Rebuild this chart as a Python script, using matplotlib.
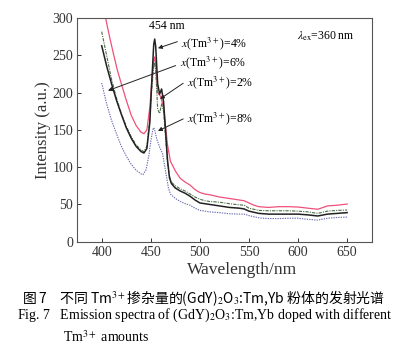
import matplotlib
matplotlib.use("Agg")
import matplotlib.pyplot as plt

# emission spectra (wavelength nm, intensity a.u.)
wl_black = [400, 405, 410, 415, 420, 425, 430, 435, 440, 443, 446, 449, 451, 453, 454, 455, 457, 459, 461,
            463, 465, 467, 469, 471, 475, 480, 485, 490, 495, 500, 505, 510, 520, 530, 540, 545, 550, 560,
            570, 580, 590, 600, 610, 620, 630, 640, 650]
int_black = [263, 236, 212, 190, 171, 153, 139, 128, 121, 119, 125, 160, 215, 265, 272, 262, 212, 198, 205,
             188, 150, 110, 86, 78, 72, 68, 65, 61, 56, 52, 51, 50, 48, 46, 45, 44, 41, 38,
             37, 37, 37, 37, 36, 34.5, 37, 38, 39]

wl_green = [400, 405, 410, 415, 420, 425, 430, 435, 440, 443, 446, 449, 451, 453, 454, 455, 457, 459, 461,
            463, 465, 467, 469, 471, 475, 480, 485, 490, 495, 500, 505, 510, 520, 530, 540, 545, 550, 560,
            570, 580, 590, 600, 610, 620, 630, 640, 650]
int_green = [282, 250, 218, 193, 172, 155, 141, 130, 123, 121, 128, 165, 205, 235, 240, 230, 178, 172, 185,
             175, 140, 105, 88, 80, 75, 71, 68, 64, 60, 57, 55, 54, 53, 51, 49.5, 49, 45, 42,
             41.5, 41.5, 41.5, 41, 40, 38, 41, 42, 42.5]

wl_pink = [400, 404, 408, 412, 416, 420, 425, 430, 435, 440, 443, 446, 449, 451, 453, 454, 455, 457, 460,
           463, 465, 467, 470, 475, 480, 485, 490, 495, 500, 505, 510, 520, 530, 540, 545, 550, 555,
           560, 570, 580, 590, 600, 610, 620, 630, 640, 650]
int_pink = [335, 300, 275, 252, 230, 212, 190, 170, 156, 147, 145, 150, 180, 215, 243, 248, 238, 200, 195,
            180, 155, 130, 108, 95, 85, 80, 76, 70, 66, 64, 63, 60, 58, 56, 55, 52, 49,
            47, 46, 47, 47, 46.5, 45, 43.5, 48, 49, 50.5]

wl_blue = [400, 405, 410, 415, 420, 425, 430, 435, 440, 442, 445, 448, 450, 452, 453, 454, 456, 459, 462,
           465, 468, 470, 475, 480, 485, 490, 495, 500, 505, 510, 520, 530, 540, 545, 550, 560,
           570, 580, 590, 600, 610, 620, 630, 640, 650]
int_blue = [213, 185, 163, 145, 128, 115, 104, 96, 91, 90, 96, 115, 135, 150, 153, 150, 138, 127, 118,
            95, 72, 64, 58, 54, 51, 49, 45, 42, 41, 40, 39, 37.5, 37, 37, 35, 32,
            31, 31, 31.5, 31.5, 30, 29, 31.5, 32.5, 33]

x_ticks = [400, 450, 500, 550, 600, 650]
y_ticks = [0, 50, 100, 150, 200, 250, 300]

serif = "Liberation Serif"
cjk = ["Noto Sans CJK SC", "Liberation Serif"]

fig = plt.figure(figsize=(4.04, 3.57), dpi=100)
ax = fig.add_axes([0.191, 0.323, 0.729, 0.626])

ax.plot(wl_pink, int_pink, color="#f0507a", linewidth=0.9, zorder=2)
ax.plot(wl_blue, int_blue, color="#6a6ab4", linewidth=0.8, linestyle=(0, (1.2, 1.0)), zorder=3)
ax.plot(wl_green, int_green, color="#4c6e46", linewidth=0.8, linestyle=(0, (3, 1, 1, 1)), zorder=4)
ax.plot(wl_black, int_black, color="#222222", linewidth=1.1, zorder=5)

ax.set_xlim(375, 675)
ax.set_ylim(0, 300)
ax.set_xticks(x_ticks)
ax.set_yticks(y_ticks)
ax.tick_params(direction="in", length=3, width=0.7, labelsize=10, colors="#333333", pad=3)
for lab in ax.get_xticklabels() + ax.get_yticklabels():
    lab.set_fontfamily(serif)
for sp in ax.spines.values():
    sp.set_color("#555555")
    sp.set_linewidth(0.8)

ax.set_xlabel("Wavelength/nm", fontfamily=serif, fontsize=12.5, color="#333333")
ax.xaxis.set_label_coords(0.56, -0.09)
ax.set_ylabel("Intensity (a.u.)", fontfamily=serif, fontsize=12, color="#333333", labelpad=1)

ax.text(466, 289, "454 nm", fontfamily=serif, fontsize=8.5, ha="center", va="center")
ax.text(599, 276, r"$\lambda_{\rm ex}$=360 nm", fontfamily=serif, fontsize=8.5, ha="left", va="center",
        math_fontfamily="stix")

arrow = dict(arrowstyle="-|>", color="#222222", linewidth=0.7, mutation_scale=6, shrinkA=0, shrinkB=0)
labels = [
    ("4%", (481, 266), (477, 268.5), (457.3, 259.7)),
    ("6%", (480, 240), (475.3, 236.4), (406.4, 202.8)),
    ("2%", (487, 213.6), (483, 212.7), (459.4, 191.6)),
    ("8%", (487, 164.8), (483, 164.8), (457.3, 148.7)),
]
for pct, txt_xy, tail, head in labels:
    ax.annotate("", xy=head, xytext=tail, arrowprops=arrow)
    ax.text(txt_xy[0], txt_xy[1], r"$x$(Tm$^{3+}$)=" + pct, fontfamily=serif, fontsize=8.5,
            ha="left", va="center", math_fontfamily="stix")

fig.text(0.055, 0.165, "图 7    不同 Tm$^{3+}$掺杂量的(GdY)$_2$O$_3$:Tm,Yb 粉体的发射光谱",
         fontfamily=cjk, fontsize=10, ha="left", va="center", math_fontfamily="stix")
fig.text(0.042, 0.117, "Fig. 7   Emission spectra of (GdY)$_2$O$_3$:Tm,Yb doped with different",
         fontfamily=serif, fontsize=10, ha="left", va="center", math_fontfamily="stix")
fig.text(0.156, 0.056, "Tm$^{3+}$ amounts", fontfamily=serif, fontsize=10, ha="left", va="center",
         math_fontfamily="stix")

fig.savefig("out.png", dpi=100)
